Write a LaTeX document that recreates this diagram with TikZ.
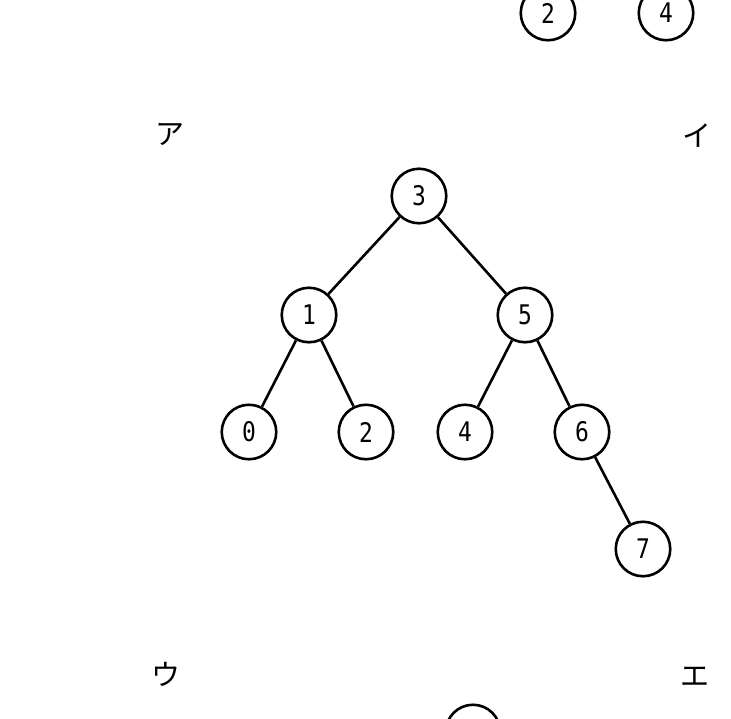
\documentclass[tikz,border=0pt]{standalone}
\usepackage{fontspec}
\newfontfamily\jpfont{Noto Sans CJK JP}
\newfontfamily\digitfont[FakeStretch=0.85]{DejaVu Sans Mono}
\begin{document}
\begin{tikzpicture}[x=1pt,y=-1pt,
  tnode/.style={circle,draw,line width=2.6pt,minimum size=54.5pt,inner sep=0pt,font=\digitfont\fontsize{27}{27}\selectfont},
  edge/.style={line width=2.6pt},
  kana/.style={font=\jpfont\fontsize{29}{29}\selectfont}]
\useasboundingbox (0,0) rectangle (731,718);
% top partial row
\node[tnode] (t2) at (548,13) {2};
\node[tnode] (t4) at (666,13) {4};
% labels
\node[kana] (la) at (170,135) {ア};
\node[kana] (li) at (697,136) {イ};
\node[kana] (lu) at (166,674) {ウ};
\node[kana] (le) at (695,677) {エ};
% tree
\node[tnode] (n3) at (419,196) {3};
\node[tnode] (n1) at (309,315) {1};
\node[tnode] (n5) at (525,315) {5};
\node[tnode] (n0) at (249,432) {0};
\node[tnode] (n2) at (366,432) {2};
\node[tnode] (n4) at (465,432) {4};
\node[tnode] (n6) at (582,432) {6};
\node[tnode] (n7) at (643,549) {7};
\draw[edge] (n3) -- (n1);
\draw[edge] (n3) -- (n5);
\draw[edge] (n1) -- (n0);
\draw[edge] (n1) -- (n2);
\draw[edge] (n5) -- (n4);
\draw[edge] (n5) -- (n6);
\draw[edge] (n6) -- (n7);
% bottom partial circle
\node[tnode] (b) at (473,732) {};
\end{tikzpicture}
\end{document}
